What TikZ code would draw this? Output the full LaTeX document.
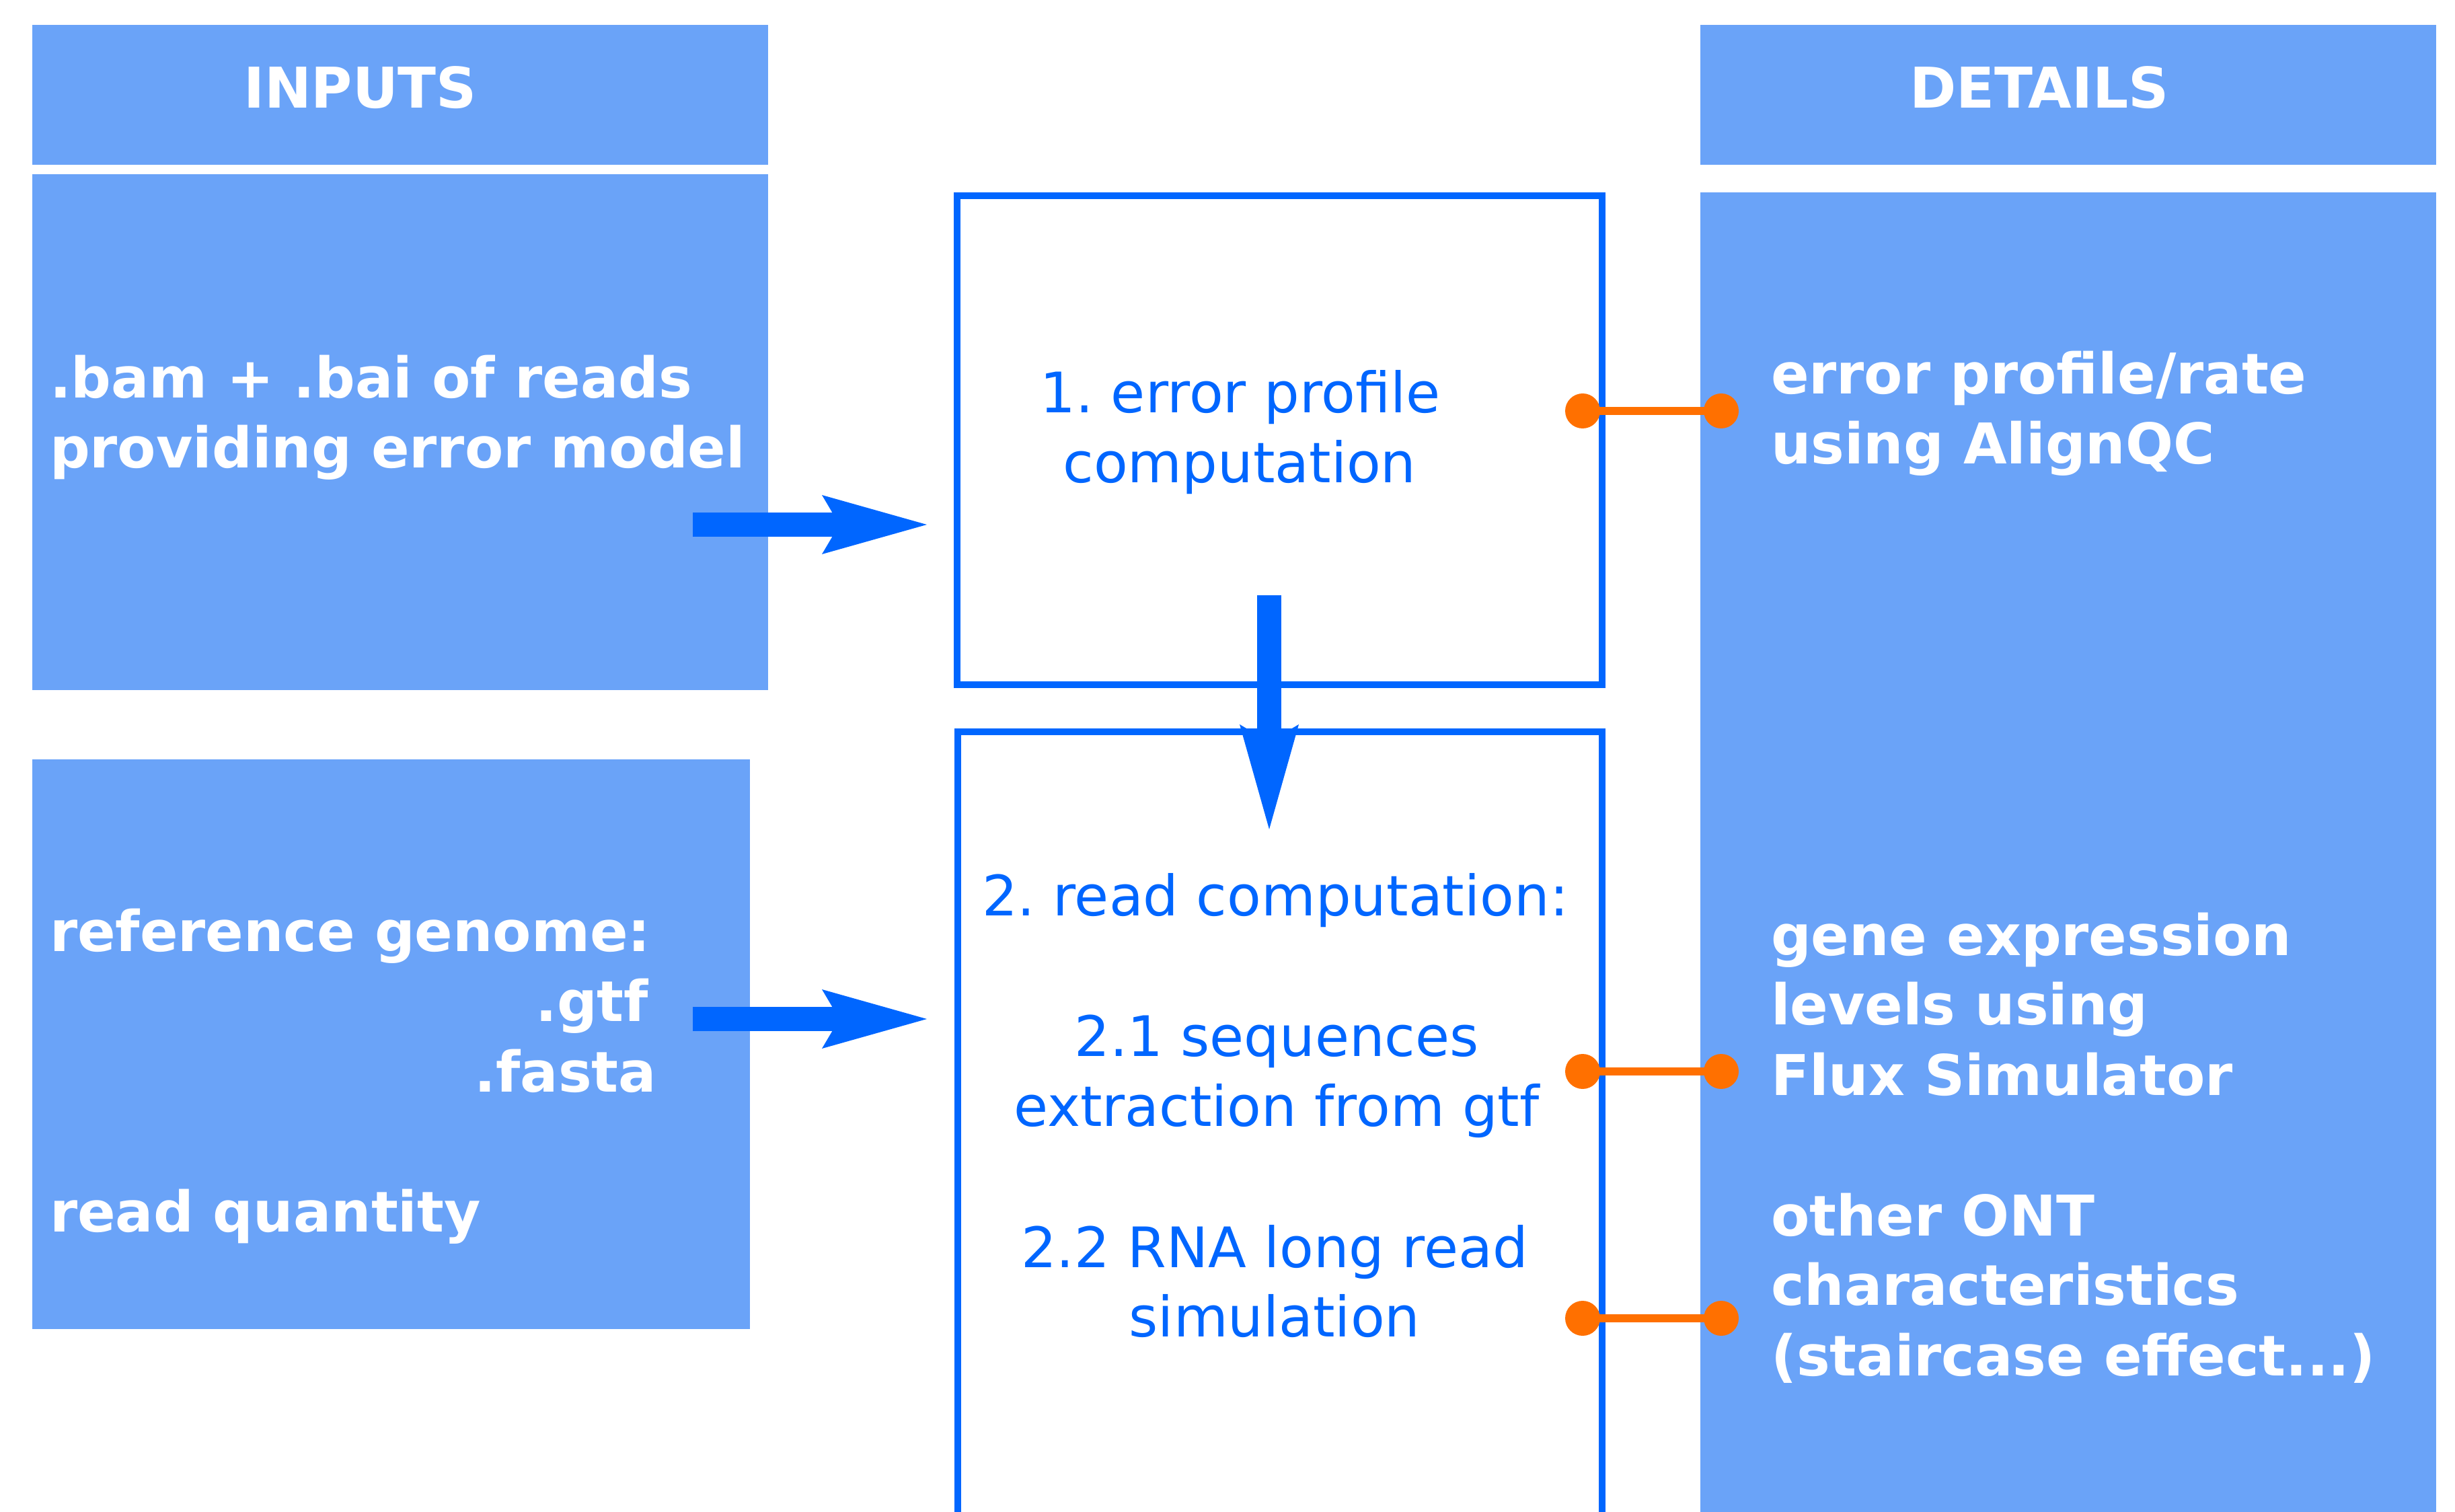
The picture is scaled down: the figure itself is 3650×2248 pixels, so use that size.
\documentclass[tikz,border=0pt]{standalone}
\usepackage{fontspec}
\setmainfont{DejaVu Sans}
\usetikzlibrary{arrows.meta}
\definecolor{lightfill}{HTML}{6AA3F8}
\definecolor{stepblue}{HTML}{0066FF}
\definecolor{linkorange}{HTML}{FF7000}
\frenchspacing
\begin{document}
\begin{tikzpicture}[x=0.2pt,y=-0.2pt,
  panel/.style={fill=lightfill, draw=none, inner sep=0pt, outer sep=0pt, anchor=north west},
  stepbox/.style={draw=stepblue, line width=2pt, inner sep=0pt, outer sep=0pt, anchor=north west},
  wtext/.style={text=white, font=\fontsize{16.7}{20.8}\selectfont\bfseries\frenchspacing, inner sep=0pt},
  btext/.style={text=stepblue, font=\fontsize{16.6}{20.8}\selectfont\frenchspacing, inner sep=0pt},
  flow/.style={draw=stepblue, line width=7.2pt, -{Stealth[length=31.2pt, width=17.6pt, inset=5.2pt, line width=0pt, fill=stepblue]}},
  link/.style={draw=linkorange, line width=2.4pt},
  dot/.style={circle, fill=linkorange, draw=none, inner sep=0pt, minimum size=10.4pt}]
\useasboundingbox (0,0) rectangle (3650,2248);
\clip (0,0) rectangle (3650,2248);

% panels
\node[panel, minimum width=218.8pt, minimum height=41.6pt] (inhead) at (48,37) {};
\node[panel, minimum width=218.8pt, minimum height=153.4pt] (inbox1) at (48,259) {};
\node[panel, minimum width=213.4pt, minimum height=169.4pt] (inbox2) at (48,1129) {};
\node[panel, minimum width=218.8pt, minimum height=41.6pt] (dethead) at (2528,37) {};
\node[panel, minimum width=218.8pt, minimum height=402.8pt] (detbox) at (2528,286) {};

% step boxes
\node[stepbox, minimum width=191.8pt, minimum height=145.4pt] (step1) at (1423,291) {};
\node[stepbox, minimum width=191.6pt, minimum height=246.4pt] (step2) at (1424,1088) {};

% headers
\node[wtext, anchor=base west] (tin) at (361,161) {INPUTS};
\node[wtext, anchor=base west] (tdet) at (2838,161) {DETAILS};

% input texts
\node[wtext, anchor=base west] (i1a) at (73,592) {.bam + .bai of reads};
\node[wtext, anchor=base west] (i1b) at (73,696) {providing error model};
\node[wtext, anchor=base west] (i2a) at (73,1414) {reference genome:};
\node[wtext, anchor=base east] (i2b) at (965,1518) {.gtf};
\node[wtext, anchor=base east] (i2c) at (977,1623) {.fasta};
\node[wtext, anchor=base west] (i2d) at (73,1831) {read quantity};

% step texts
\node[btext, anchor=base] (s1a) at (1844,614) {1. error profile};
\node[btext, anchor=base] (s1b) at (1843,718) {computation};
\node[btext, anchor=base] (s2a) at (1896,1361) {2. read computation:};
\node[btext, anchor=base] (s2b) at (1898,1570) {2.1 sequences};
\node[btext, anchor=base] (s2c) at (1898,1674) {extraction from gtf};
\node[btext, anchor=base] (s2d) at (1895,1884) {2.2 RNA long read};
\node[btext, anchor=base] (s2e) at (1895,1987) {simulation};

% detail texts
\node[wtext, anchor=base west] (d1) at (2632,586) {error profile/rate};
\node[wtext, anchor=base west] (d2) at (2632,690) {using AlignQC};
\node[wtext, anchor=base west] (d3) at (2632,1420) {gene expression};
\node[wtext, anchor=base west] (d4) at (2632,1523) {levels using};
\node[wtext, anchor=base west] (d5) at (2632,1628) {Flux Simulator};
\node[wtext, anchor=base west] (d6) at (2632,1837) {other ONT};
\node[wtext, anchor=base west] (d7) at (2632,1940) {characteristics};
\node[wtext, anchor=base west] (d8) at (2632,2045) {(staircase effect...)};

% flow arrows
\coordinate (a1s) at (1030,780);
\coordinate (a1e) at (1378,780);
\coordinate (a2s) at (1030,1515);
\coordinate (a2e) at (1378,1515);
\coordinate (a3s) at (1887,885);
\coordinate (a3e) at (1887,1233);
\draw[flow] (a1s) -- (a1e);
\draw[flow] (a2s) -- (a2e);
\draw[flow] (a3s) -- (a3e);

% orange links
\coordinate (l1a) at (2353,611);
\coordinate (l1b) at (2559,611);
\coordinate (l2a) at (2353,1593);
\coordinate (l2b) at (2559,1593);
\coordinate (l3a) at (2353,1960);
\coordinate (l3b) at (2559,1960);
\draw[link] (l1a) -- (l1b);
\draw[link] (l2a) -- (l2b);
\draw[link] (l3a) -- (l3b);
\node[dot] (k1a) at (l1a) {};
\node[dot] (k1b) at (l1b) {};
\node[dot] (k2a) at (l2a) {};
\node[dot] (k2b) at (l2b) {};
\node[dot] (k3a) at (l3a) {};
\node[dot] (k3b) at (l3b) {};
\end{tikzpicture}
\end{document}
